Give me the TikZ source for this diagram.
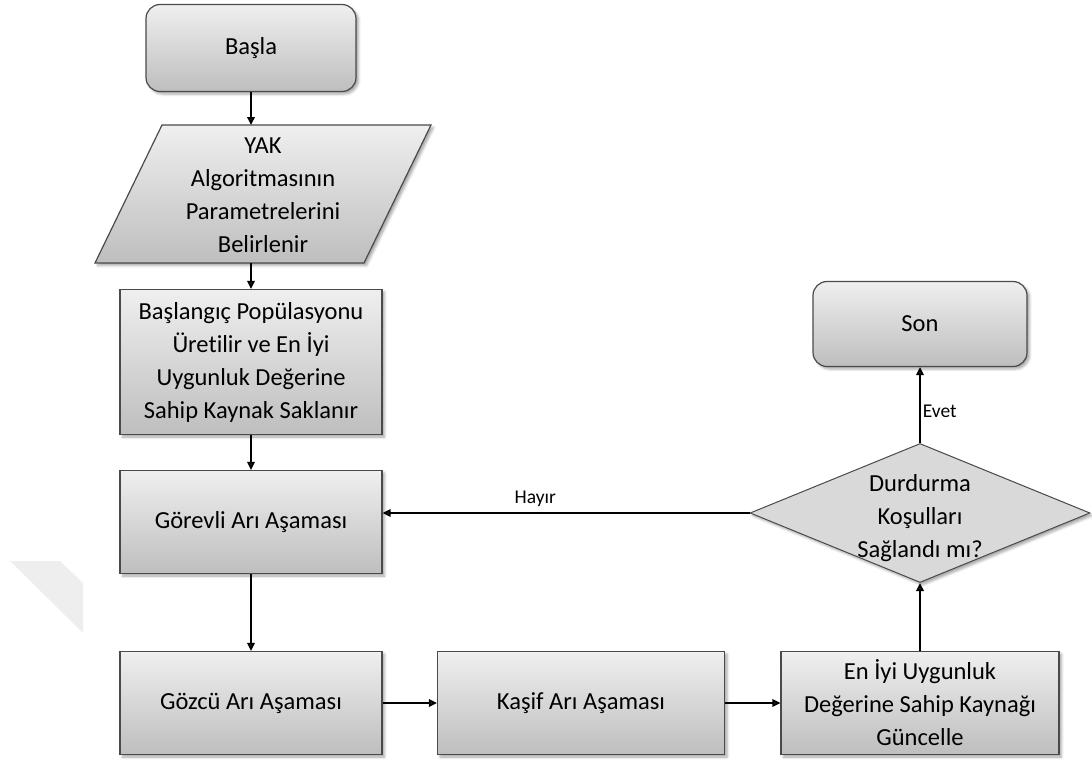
\documentclass[tikz,border=0pt]{standalone}
\usepackage{fontspec}
\setmainfont{Carlito}[Ligatures=NoCommon]
\usetikzlibrary{shapes.geometric,shadows.blur,arrows.meta}
\definecolor{boxtop}{HTML}{EFEFEF}
\definecolor{boxbot}{HTML}{BEBEBE}
\definecolor{edge}{HTML}{4A4A4A}
\definecolor{decfill}{HTML}{D9D9D9}
\definecolor{wmark}{HTML}{EEEEEE}

\begin{document}
\begin{tikzpicture}[x=1pt,y=-1pt,
  font=\fontsize{24.5}{33}\selectfont,
  shade/.style={blur shadow={shadow xshift=2.5pt, shadow yshift=-2.5pt,
      shadow blur radius=2.5pt, shadow opacity=35}},
  stage/.style={draw=edge, line width=1.2pt, top color=boxtop, bottom color=boxbot,
      shade, align=center, inner sep=0pt},
  terminal/.style={stage, rounded corners=14pt},
  decision/.style={diamond, draw=edge, line width=1pt, fill=decfill, shade,
      inner sep=0pt, minimum width=340pt, minimum height=139pt},
  arr/.style={line width=1.8pt, -{Triangle[length=8pt,width=7.5pt]}},
  tag/.style={font=\fontsize{19.5}{24}\selectfont, inner sep=2pt}
]
\useasboundingbox (0,0) rectangle (1092,763);

% faint mark at the left edge
\fill[wmark] (10,561) -- (60,561) -- (83,583) -- (83,633) -- cycle;

% start and end
\node[terminal, minimum width=210pt, minimum height=87pt] (start) at (251,48) {Başla};
\node[terminal, minimum width=214pt, minimum height=85pt] (stop) at (920,324) {Son};

% input parallelogram
\coordinate (parTL) at (162,125);
\coordinate (parTR) at (431,125);
\coordinate (parBR) at (364,263);
\coordinate (parBL) at (95,263);
\path[stage] (parTL) -- (parTR) -- (parBR) -- (parBL) -- cycle;
\node[align=center, inner sep=0pt] (par) at (263,195)
  {YAK\\Algoritmasının\\Parametrelerini\\Belirlenir};

% process boxes
\node[stage, minimum width=262pt, minimum height=145pt] (init) at (251,362)
  {Başlangıç Popülasyonu\\Üretilir ve En İyi\\Uygunluk Değerine\\Sahip Kaynak Saklanır};
\node[stage, minimum width=262pt, minimum height=103pt] (emp) at (251,522)
  {Görevli Arı Aşaması};
\node[stage, minimum width=262pt, minimum height=103pt] (onl) at (251,703)
  {Gözcü Arı Aşaması};
\node[stage, minimum width=287pt, minimum height=103pt] (sct) at (581,703)
  {Kaşif Arı Aşaması};
\node[stage, minimum width=278pt, minimum height=103pt] (best) at (920,703)
  {En İyi Uygunluk\\Değerine Sahip Kaynağı\\Güncelle};

% decision
\node[decision] (cond) at (920,513) {};
\node[align=center, inner sep=0pt] (condtxt) at (920,518)
  {Durdurma\\Koşulları\\Sağlandı mı?};

% connectors
\draw[arr] (start.south) -- (start.south |- parTL);
\draw[arr] (init.north |- parBL) -- (init.north);
\draw[arr] (init.south) -- (emp.north);
\draw[arr] (emp.south) -- (onl.north);
\draw[arr] (onl.east) -- (sct.west);
\draw[arr] (sct.east) -- (best.west);
\draw[arr] (best.north) -- (cond.south);
\draw[arr] (cond.north) -- node[tag, pos=0.42, right] {Evet} (stop.south);
\draw[arr] (cond.west) -- node[tag, pos=0.584, above=3pt] {Hayır} (cond.west -| emp.east);
\end{tikzpicture}
\end{document}
